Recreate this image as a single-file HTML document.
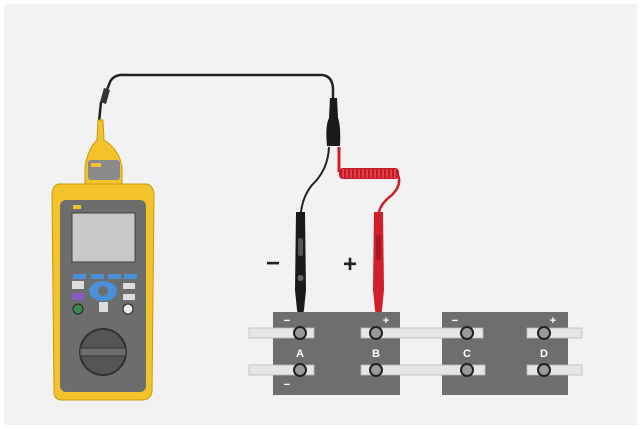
<!DOCTYPE html>
<html><head><style>body{margin:0;background:#fff}svg{display:block}</style></head><body>
<svg width="641" height="429" viewBox="0 0 641 429" xmlns="http://www.w3.org/2000/svg" font-family="Liberation Sans, sans-serif">
<rect x="0" y="0" width="641" height="429" fill="#fff"/>
<rect x="4" y="4" width="633" height="421" fill="#f2f2f2"/>
<!-- cable -->
<path d="M103,100 L110,82 Q114,74 125,75 L322,75 Q333,76 333,90 L333,112" fill="none" stroke="#222" stroke-width="2.5"/>
<path d="M104,88 L110,90 L106,104 L100,102 Z" fill="#333"/>
<path d="M101,102 L99,122" stroke="#222" stroke-width="2.5"/>
<!-- splitter -->
<path d="M330,98 L337,98 L338,118 Q341,126 340,146 L327,146 Q325,126 329,118 Z" fill="#1a1a1a"/>
<path d="M329,147 Q328,170 312,185 Q303,196 301,212" fill="none" stroke="#222" stroke-width="2"/>
<!-- red coil -->
<path d="M339,147 L339,172" stroke="#d01e2a" stroke-width="3"/>
<rect x="339" y="168" width="60" height="11" rx="4" fill="#c41a25"/>
<g stroke="#ff6670" stroke-width="1">
<path d="M343,169v9M347,169v9M351,169v9M355,169v9M359,169v9M363,169v9M367,169v9M371,169v9M375,169v9M379,169v9M383,169v9M387,169v9M391,169v9M395,169v9"/></g>
<path d="M398,175 Q402,185 392,195 Q381,203 379,212" fill="none" stroke="#d01e2a" stroke-width="2.5"/>
<!-- black probe -->
<path d="M296,212 L305,212 L306,290 L304,310 L302,318 L299,318 L297,310 L295,290 Z" fill="#1a1a1a"/>
<rect x="298" y="238" width="5" height="18" rx="2" fill="#555"/>
<circle cx="300.5" cy="278" r="3" fill="#666"/>
<path d="M299,318 L299,330 L302,330 L302,318" fill="#444"/>
<!-- red probe -->
<path d="M374,212 L383,212 L384,290 L382,310 L380,318 L377,318 L375,310 L373,290 Z" fill="#d01e2a"/>
<rect x="376" y="235" width="5" height="25" rx="2" fill="#a81620"/>
<path d="M377,318 L378,330 L380,330 L380,318" fill="#c41a25"/>
<text x="273" y="271" font-size="24" font-weight="bold" fill="#222" text-anchor="middle">−</text>
<text x="350" y="272" font-size="24" font-weight="bold" fill="#222" text-anchor="middle">+</text>
<!-- batteries -->
<rect x="273" y="312" width="127" height="83" fill="#6e6e6e"/>
<rect x="442" y="312" width="126" height="83" fill="#6e6e6e"/>
<g fill="#fff" font-weight="bold" font-size="11" text-anchor="middle">
<text x="287" y="324">−</text><text x="386" y="324">+</text>
<text x="455" y="324">−</text><text x="553" y="324">+</text>
<text x="287" y="388">−</text>
<text x="300" y="357">A</text><text x="376" y="357">B</text><text x="467" y="357">C</text><text x="544" y="357">D</text>
</g>
<g fill="#e6e6e6" stroke="#bbb" stroke-width="0.8">
<rect x="249" y="328" width="65" height="10"/><rect x="361" y="328" width="122" height="10"/><rect x="527" y="328" width="55" height="10"/>
<rect x="249" y="365" width="65" height="10"/><rect x="361" y="365" width="124" height="10"/><rect x="527" y="365" width="55" height="10"/>
</g>
<g fill="#999" stroke="#222" stroke-width="2">
<circle cx="300" cy="333" r="6"/><circle cx="376" cy="333" r="6"/><circle cx="467" cy="333" r="6"/><circle cx="544" cy="333" r="6"/>
<circle cx="300" cy="370" r="6"/><circle cx="376" cy="370" r="6"/><circle cx="467" cy="370" r="6"/><circle cx="544" cy="370" r="6"/>
</g>
<!-- meter -->
<path d="M98,120 L103,120 L104,140 Q120,150 122,168 L122,184 L85,184 L85,168 Q87,150 97,140 Z" fill="#f4c22b" stroke="#c79a10"/>
<rect x="88" y="160" width="32" height="20" rx="3" fill="#8a8a8a"/>
<rect x="91" y="163" width="10" height="4" fill="#f4c22b"/>
<path d="M58,184 L147,184 Q154,186 154,196 L152,392 Q150,400 142,400 L62,400 Q54,400 54,392 L52,196 Q52,186 58,184 Z" fill="#f4c22b" stroke="#c79a10"/>
<rect x="60" y="200" width="86" height="192" rx="6" fill="#6d6d6d"/>
<rect x="72" y="213" width="63" height="49" fill="#c8c8c8" stroke="#444"/>
<rect x="73" y="205" width="8" height="4" fill="#f4c22b"/>
<g fill="#4a90d9"><rect x="73" y="274" width="13" height="5"/><rect x="91" y="274" width="13" height="5"/><rect x="108" y="274" width="13" height="5"/><rect x="124" y="274" width="13" height="5"/></g>
<ellipse cx="103" cy="291" rx="14" ry="10" fill="#4a90d9"/>
<circle cx="103" cy="291" r="5" fill="#6d6d6d"/>
<rect x="72" y="281" width="12" height="8" fill="#ddd"/><rect x="72" y="293" width="12" height="7" fill="#8a5bc4"/>
<rect x="123" y="283" width="12" height="6" fill="#ddd"/><rect x="123" y="294" width="12" height="6" fill="#ddd"/>
<circle cx="78" cy="309" r="5" fill="#3a8a4a" stroke="#222"/>
<circle cx="128" cy="309" r="5" fill="#eee" stroke="#222"/>
<rect x="99" y="302" width="9" height="10" fill="#ddd"/>
<circle cx="103" cy="352" r="23" fill="#555" stroke="#333" stroke-width="2"/>
<rect x="80" y="348" width="46" height="8" fill="#6d6d6d" stroke="#333"/>
</svg>
</body></html>
